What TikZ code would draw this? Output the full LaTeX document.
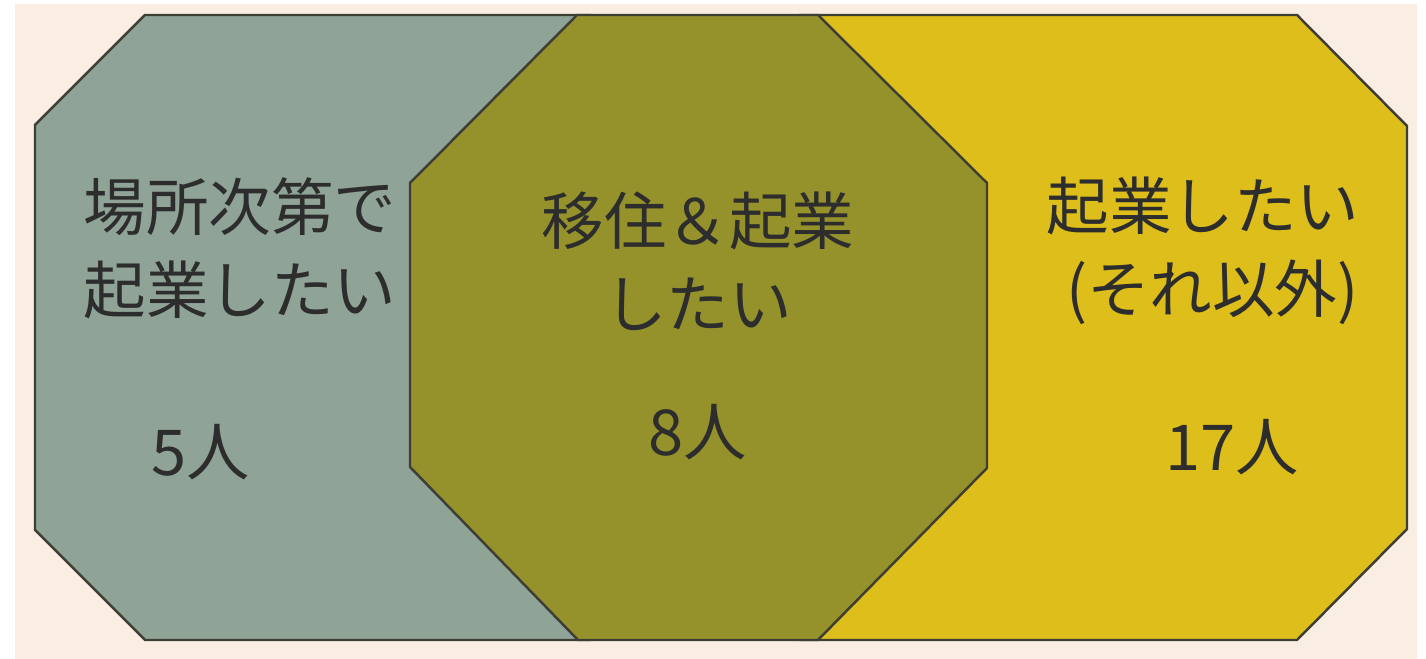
\documentclass[tikz,border=0pt]{standalone}
\usepackage{fontspec}
\setmainfont{Noto Sans CJK JP}
\definecolor{paper}{RGB}{250,238,226}
\definecolor{sage}{RGB}{143,163,151}
\definecolor{olive}{RGB}{149,146,44}
\definecolor{mustard}{RGB}{222,190,26}
\definecolor{edgegray}{RGB}{62,62,54}
\definecolor{ink}{RGB}{45,45,45}
\begin{document}
\begin{tikzpicture}
        		\tikzstyle{region}=[draw=edgegray,line width=0.7pt,line join=miter]
        		\tikzstyle{groupname}=[text=ink,align=center,font=\fontsize{17.8}{23.6}\selectfont,inner sep=0pt]
        		\tikzstyle{count}=[text=ink,font=\fontsize{18}{23.6}\selectfont,inner sep=0pt]

        		% page and backdrop
        		\fill[white] (0,0) rectangle (14.26,6.59);
        		\fill[paper] (0.15,0) rectangle (14.17,6.55);

       			\begin{scope}

			         % left and right groups (their hidden sides lie under the middle one)
			         \path[region,fill=sage] (1.45,6.44) -- (5.90,6.44) -- (7.00,5.34) -- (7.00,1.29)
			               -- (5.90,0.19) -- (1.45,0.19) -- (0.35,1.29) -- (0.35,5.34) -- cycle;
			         \path[region,fill=mustard] (8.00,6.44) -- (12.97,6.44) -- (14.07,5.33) -- (14.07,1.30)
			               -- (12.97,0.19) -- (8.00,0.19) -- (7.00,1.29) -- (7.00,5.34) -- cycle;
			         % overlap
			         \path[region,fill=olive] (5.77,6.44) -- (8.18,6.44) -- (9.87,4.76) -- (9.87,1.91)
			               -- (8.18,0.19) -- (5.78,0.19) -- (4.10,1.92) -- (4.10,4.76) -- cycle;

			         \node [groupname] (place) at (2.40,4.11) {場所次第で\\起業したい};
			         \node [groupname] (both) at (6.98,3.98) {移住＆起業\\したい};
			         \node [groupname] (other) at (12.03,4.08) {起業したい\\\hspace*{0.3em}(それ以外)};

			         \node [count] (nplace) at (2.01,2.07) {5人};
			         \node [count] (nboth) at (6.98,2.27) {8人};
			         \node [count] (nother) at (12.32,2.12) {17人};

		        \end{scope}
     		 \end{tikzpicture}
\end{document}
